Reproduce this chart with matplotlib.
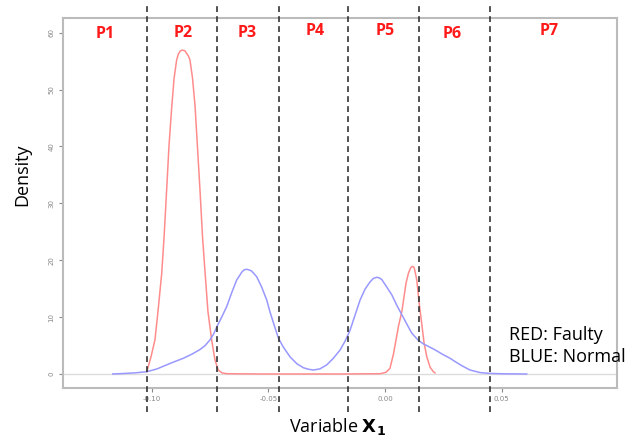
import matplotlib
matplotlib.use("Agg")
import matplotlib.pyplot as plt

# Faulty (red) density curve
red_x = [-0.1021, -0.1003, -0.0986, -0.0973, -0.0957, -0.0947, -0.0936, -0.0926,
         -0.0914, -0.0904, -0.0893, -0.0886, -0.0879, -0.0872, -0.0865, -0.0858,
         -0.0851, -0.0843, -0.0836, -0.0825,
         -0.0814, -0.0804, -0.0793, -0.0782, -0.0771, -0.0759, -0.0743, -0.0729,
         -0.0715, -0.0699, -0.0679, -0.0536, -0.0364, -0.0193, -0.0021, 0.0004,
         0.0021, 0.0036, 0.0047, 0.0058, 0.0072, 0.0081, 0.0090, 0.0100, 0.0109,
         0.0114, 0.0119, 0.0123, 0.0126, 0.0136, 0.0146, 0.0157, 0.0167, 0.0179,
         0.0193, 0.0207, 0.0214]
red_y = [0.4, 3.0, 6.0, 11.0, 17.7, 24.0, 32.3, 40.0,
         47.0, 52.0, 55.2, 56.2, 56.7, 56.9, 56.9, 56.8,
         56.4, 55.9, 55.2, 52.0,
         47.0, 40.0, 32.3, 24.0, 17.7, 11.0, 6.0, 2.5,
         0.7, 0.2, 0.05, 0.0, 0.0, 0.0, 0.05, 0.3,
         1.0, 3.5, 6.0, 8.5, 11.0, 13.5, 16.0, 17.7, 18.6,
         18.85, 18.9, 18.8, 18.5, 16.5, 12.5, 8.9, 5.5, 3.0,
         1.2, 0.4, 0.2]

# Normal (blue) density curve
blue_x = [-0.1167, -0.1114, -0.1072, -0.1021, -0.0977, -0.0936, -0.0900, -0.0865,
          -0.0827, -0.0793, -0.0771, -0.0750, -0.0735, -0.0721, -0.0700, -0.0679,
          -0.0657, -0.0636, -0.0614, -0.0604, -0.0593, -0.0583, -0.0572, -0.0550,
          -0.0529, -0.0507,
          -0.0493, -0.0476, -0.0457, -0.0437, -0.0407, -0.0378, -0.0350, -0.0330,
          -0.0307, -0.0279, -0.0250, -0.0223, -0.0193, -0.0171, -0.0150, -0.0129,
          -0.0107, -0.0086, -0.0064, -0.0050, -0.0036, -0.0025, -0.0014, 0.0007,
          0.0029, 0.0050,
          0.0072, 0.0093, 0.0114, 0.0143, 0.0164, 0.0193, 0.0216, 0.0249,
          0.0279, 0.0307, 0.0336, 0.0364, 0.0407, 0.0450, 0.0514, 0.0607]
blue_y = [0.0, 0.1, 0.2, 0.4, 0.9, 1.6, 2.2, 2.75,
          3.5, 4.3, 5.0, 6.0, 7.0, 8.3, 10.0, 11.8,
          14.3, 16.5, 17.9, 18.3, 18.4, 18.3, 18.1, 17.1,
          15.3, 13.0,
          10.9, 8.7, 6.3, 4.8, 3.0, 1.8, 1.1, 0.85,
          0.7, 0.9, 1.6, 2.7, 4.2, 5.8, 7.7, 10.3,
          13.0, 14.9, 16.2, 16.8, 17.0, 16.9, 16.6, 15.3,
          13.9, 12.1,
          10.4, 8.8, 7.2, 5.9, 5.3, 4.7, 4.2, 3.4,
          2.75, 2.0, 1.3, 0.7, 0.25, 0.1, 0.03, 0.0]

# partition boundaries and region labels
boundaries = [-0.102, -0.072, -0.0454, -0.0159, 0.0146, 0.045]
region_names = ["P1", "P2", "P3", "P4", "P5", "P6", "P7"]
region_x = [-0.120, -0.0866, -0.059, -0.030, 0.0, 0.0287, 0.0703]
region_y = [59.8, 60.0, 60.0, 60.3, 60.3, 59.8, 60.3]

x_ticks = [-0.10, -0.05, 0.00, 0.05]
x_tick_labels = ["-0.10", "-0.05", "0.00", "0.05"]
y_ticks = [0, 10, 20, 30, 40, 50, 60]

fig = plt.figure(figsize=(6.41, 4.41), dpi=100)
ax = fig.add_axes([0.0983, 0.1202, 0.8643, 0.839])

ax.axhline(0, color="#dcdcdc", lw=1.0, zorder=1)
ax.plot(red_x, red_y, color="#ff8c8c", lw=1.1, zorder=3)
ax.plot(blue_x, blue_y, color="#9898ff", lw=1.1, zorder=3)

for b in boundaries:
    ax.axvline(b, ymin=-0.065, ymax=1.035, color="#333333", lw=1.2,
               ls=(0, (3.5, 2.5)), clip_on=False, zorder=4)

for name, px, py in zip(region_names, region_x, region_y):
    ax.text(px, py, name, color="#ff1a1a", fontsize=11.5, fontweight="bold",
            ha="center", va="center", family="Open Sans")

ax.set_xlim(-0.138, 0.0994)
ax.set_ylim(-2.46, 62.57)

ax.set_xticks(x_ticks)
ax.set_xticklabels(x_tick_labels)
ax.set_yticks(y_ticks)
ax.tick_params(axis="both", labelsize=5, colors="#888888", length=3, width=0.8, pad=3)
for lab in ax.get_yticklabels():
    lab.set_rotation(90)
    lab.set_va("center")

for s in ax.spines.values():
    s.set_color("#bbbbbb")
    s.set_linewidth(1.5)

ax.text(-0.074, 0.576, "Density", transform=ax.transAxes, rotation=90,
        ha="center", va="center", fontsize=13, family="Open Sans")
ax.text(0.496, -0.119, "Variable " + r"$\mathbf{X_1}$", transform=ax.transAxes,
        ha="center", va="baseline", fontsize=13, family="Open Sans")

ax.text(0.805, 0.1135, "RED: Faulty\nBLUE: Normal", transform=ax.transAxes,
        ha="left", va="center", fontsize=13, family="Open Sans",
        linespacing=1.25, clip_on=False)

fig.savefig("out.png", dpi=100)
